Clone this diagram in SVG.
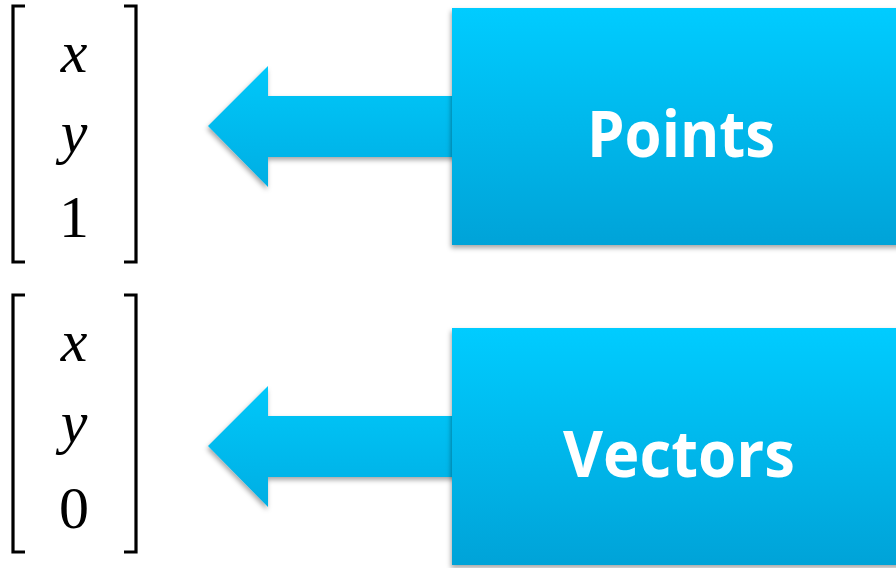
<svg xmlns="http://www.w3.org/2000/svg" width="896" height="568" viewBox="0 0 896 568">
<style>
.m{font-family:"Liberation Serif",serif;font-size:60px;fill:#000;text-anchor:middle}
.i{font-style:italic}
.br{fill:none;stroke:#000;stroke-width:3.2}
.lbl{font-family:"Open Sans","Noto Sans",sans-serif;font-weight:bold;font-size:64px;fill:#fff;text-anchor:middle}
</style>
<defs>
<linearGradient id="g1" x1="0" y1="0" x2="0" y2="1">
<stop offset="0" stop-color="#00CCFF"/>
<stop offset="1" stop-color="#00A3D8"/>
</linearGradient>
<linearGradient id="ga" gradientUnits="userSpaceOnUse" x1="0" y1="66" x2="0" y2="187">
<stop offset="0" stop-color="#00C8FA"/>
<stop offset="1" stop-color="#00AEE3"/>
</linearGradient>
<linearGradient id="gb" gradientUnits="userSpaceOnUse" x1="0" y1="386" x2="0" y2="507">
<stop offset="0" stop-color="#00C8FA"/>
<stop offset="1" stop-color="#00AEE3"/>
</linearGradient>
<filter id="sh" x="-10%" y="-10%" width="130%" height="130%">
<feDropShadow dx="-1" dy="3" stdDeviation="2.5" flood-color="#000" flood-opacity="0.35"/>
</filter>
</defs>
<g id="matrix-points">
<path class="br" d="M25,6 H13 V262 H25"/>
<path class="br" d="M124,6 H136 V262 H124"/>
<text class="m i" x="74" y="72">x</text>
<text class="m i" x="74" y="152">y</text>
<text class="m" x="74" y="237">1</text>
</g>
<g id="matrix-vectors">
<path class="br" d="M25,295 H13 V552 H25"/>
<path class="br" d="M124,295 H136 V552 H124"/>
<text class="m i" x="74" y="361">x</text>
<text class="m i" x="74" y="442">y</text>
<text class="m" x="74" y="528">0</text>
</g>
<g id="connectors">
<path d="M208,126 L268,66 V96 H460 V157 H268 V187 Z" fill="url(#ga)" filter="url(#sh)"/>
<path d="M208,446 L268,386 V416 H460 V477 H268 V507 Z" fill="url(#gb)" filter="url(#sh)"/>
</g>
<g id="points">
<rect x="452" y="8" width="450" height="237" fill="url(#g1)" filter="url(#sh)"/>
<text class="lbl" x="681" y="157" textLength="188" lengthAdjust="spacingAndGlyphs">Points</text>
</g>
<g id="vectors">
<rect x="452" y="328" width="450" height="237" fill="url(#g1)" filter="url(#sh)"/>
<text class="lbl" x="679" y="477" textLength="232" lengthAdjust="spacingAndGlyphs">Vectors</text>
</g>
</svg>
